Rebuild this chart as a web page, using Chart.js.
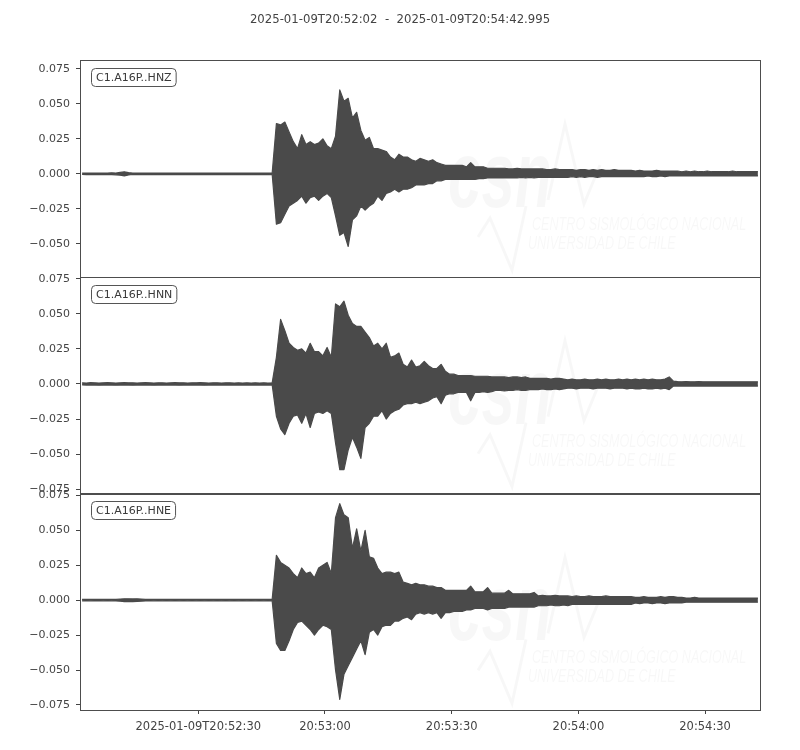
<!DOCTYPE html>
<html>
<head>
<meta charset="utf-8">
<script src="https://cdn.jsdelivr.net/npm/chart.js@4.4.1/dist/chart.umd.min.js"></script>
<style>
  html, body { margin: 0; padding: 0; background: #ffffff; }
  #wrap { width: 800px; height: 750px; }
</style>
</head>
<body>
<div id="wrap"><canvas id="c" width="800" height="750"></canvas></div>
<script>
// ---- Data (amplitudes in units of 0.001; one max/min pair per 1-second bin starting 20:52:02) ----
const TITLE_TEXT = '2025-01-09T20:52:02  -  2025-01-09T20:54:42.995';
const TRACE_NAMES = ['C1.A16P..HNZ', 'C1.A16P..HNN', 'C1.A16P..HNE'];
const X_TICK_SECONDS = [28, 58, 88, 118, 148];
const X_TICK_LABELS = ['2025-01-09T20:52:30', '20:53:00', '20:53:30', '20:54:00', '20:54:30'];
const Y_TICKS = [-0.075, -0.05, -0.025, 0, 0.025, 0.05, 0.075];
const DURATION = 160.995;
const AMP_UNIT = 0.001;

const HNZ_MAX = [
  0.6,0.5,0.6,0.5,0.6,0.5,0.6,0.7,0.6,1.0,
  1.4,0.8,0.6,0.5,0.6,0.5,0.6,0.5,0.6,0.5,
  0.6,0.5,0.6,0.5,0.6,0.5,0.6,0.5,0.5,0.6,
  0.5,0.6,0.5,0.6,0.5,0.6,0.5,0.6,0.5,0.6,
  0.5,0.6,0.5,0.6,0.5,0.6,36,35,37,30,
  23,18,28,21,23,21,22,25,20,18,
  27,60,52,54,40,44,31,24,26,18,
  18,17,16,12,10,14,12,12,10,9,
  11,10,9,10,8,7,6,6,6,6,
  6,5,8,5,5,5,4,4,4,4,
  4,3.5,3.5,4,3.5,3.5,3.5,3.5,3.5,3.5,
  3,3,3.5,3,3,3,3,2.5,3,3,
  2.5,3,2.5,3,2.5,2.5,3,2.5,2.5,2.5,
  2.5,2,2.5,2,2,2,2.5,2,2,2,
  2,2,1.5,2,1.5,2,1.5,1.5,2,1.5,
  1.5,1.5,1.5,1.5,2,1.5,1.5,1.5,1.5,1.5,
  1.5
];
const HNZ_MIN = [
  -0.5,-0.6,-0.5,-0.6,-0.5,-0.6,-0.5,-0.6,-0.7,-1.0,
  -1.5,-0.8,-0.5,-0.6,-0.5,-0.6,-0.5,-0.6,-0.5,-0.6,
  -0.5,-0.6,-0.5,-0.6,-0.5,-0.6,-0.5,-0.6,-0.6,-0.5,
  -0.6,-0.5,-0.6,-0.5,-0.6,-0.5,-0.6,-0.5,-0.6,-0.5,
  -0.6,-0.5,-0.6,-0.5,-0.6,-0.5,-36,-35,-29,-23,
  -21,-19,-16,-21,-17,-16,-19,-16,-14,-17,
  -30,-44,-42,-52,-33,-30,-23,-26,-23,-21,
  -16,-19,-14,-13,-11,-13,-11,-11,-10,-8,
  -8,-8,-7,-7,-5,-5,-4,-4,-4,-4,
  -4,-4,-4,-4,-3.5,-3.5,-3,-3,-3,-3,
  -3,-3,-3,-3,-2.5,-3,-2.5,-3,-2.5,-2.5,
  -2.5,-2.5,-2.5,-2.5,-2.5,-2.5,-2,-2.5,-2,-2.5,
  -2,-2,-2.5,-2,-2,-2,-2,-2,-2,-2,
  -2,-2,-2,-2,-1.5,-2,-2,-1.5,-2,-1.5,
  -1.5,-1.5,-1.5,-1.5,-1.5,-1.5,-1.5,-1.5,-1.5,-1.5,
  -1.5,-1.5,-1.5,-1.5,-1.5,-1.5,-1.5,-1.5,-1.5,-1.5,
  -1.5
];
const HNN_MAX = [
  0.8,0.7,0.9,0.8,0.7,0.8,0.9,0.8,0.7,0.8,
  0.9,0.8,0.8,0.7,0.8,0.9,0.8,0.7,0.8,0.8,
  0.7,0.8,0.9,0.8,0.8,0.7,0.8,0.8,0.9,0.8,
  0.7,0.8,0.8,0.7,0.8,0.8,0.7,0.8,0.7,0.8,
  0.7,0.8,0.7,0.8,0.7,0.8,19,46,38,29,
  26,24,25,22,29,23,23,20,26,19,
  57,55,59,49,43,41,41,37,33,27,
  29,25,29,19,20,22,14,12,17,12,
  13,16,13,11,11,14,9,7,7,6,
  6,6,6,5.5,5.5,5.5,5.5,5,5,5,
  5,4.5,5,5,4.5,5,4,4,4,4,
  4,3.5,4,4,3.5,3,3.5,3,3,3.5,
  3,3,3.5,3,3.5,3,3,3.5,3,3.5,
  3,3.5,3,3.5,3,3.5,3,3,3.5,5,
  2,1.7,1.5,1.7,1.5,1.5,1.7,1.5,1.5,1.5,
  1.5,1.5,1.5,1.5,1.5,1.5,1.5,1.5,1.5,1.5,
  1.5
];
const HNN_MIN = [
  -0.7,-0.8,-0.8,-0.7,-0.9,-0.8,-0.7,-0.8,-0.9,-0.8,
  -0.8,-0.7,-0.9,-0.8,-0.7,-0.8,-0.8,-0.9,-0.7,-0.8,
  -0.8,-0.7,-0.8,-0.9,-0.7,-0.8,-0.8,-0.7,-0.8,-0.9,
  -0.8,-0.7,-0.8,-0.8,-0.7,-0.8,-0.8,-0.7,-0.8,-0.7,
  -0.8,-0.7,-0.8,-0.7,-0.8,-0.7,-23,-32,-36,-28,
  -23,-22,-28,-21,-31,-21,-20,-21,-19,-21,
  -42,-61,-61,-47,-38,-45,-53,-31,-28,-23,
  -23,-19,-25,-21,-19,-18,-15,-14,-14,-13,
  -14,-13,-12,-10,-9,-14,-8,-7,-7,-6,
  -6,-6,-12,-6,-6,-5.5,-6,-5.5,-4.5,-4.5,
  -5,-4.5,-4.5,-4,-4.5,-4.5,-4,-4,-4,-3.5,
  -4,-4,-3.5,-4,-3.5,-3,-3,-3.5,-3,-3,
  -3,-3.5,-3,-3,-3,-3.5,-3,-3,-3,-3.5,
  -3,-3.5,-3.5,-3,-3.5,-3.5,-3,-3.5,-3,-4,
  -1.5,-1.5,-1.5,-1.5,-1.5,-1.5,-1.5,-1.5,-1.5,-1.5,
  -1.5,-1.5,-1.5,-1.5,-1.5,-1.5,-1.5,-1.5,-1.5,-1.5,
  -1.5
];
const HNE_MAX = [
  0.6,0.5,0.6,0.6,0.5,0.6,0.5,0.6,0.6,0.8,
  1.0,1.0,0.9,1.0,0.8,0.6,0.5,0.6,0.5,0.6,
  0.5,0.6,0.5,0.6,0.5,0.6,0.5,0.6,0.5,0.6,
  0.5,0.6,0.5,0.6,0.5,0.6,0.5,0.6,0.5,0.6,
  0.5,0.6,0.5,0.6,0.5,0.6,32,27,25,23,
  19,16,23,19,20,16,23,25,27,19,
  59,69,61,59,37,51,35,50,31,30,
  23,19,20,20,19,20,13,12,11,12,
  11,11,10,10,9,9,7,7,7,7,
  7,7,10,6,6,6,9,5,5,5,
  5,7,4.5,4.5,4.5,4.5,4.5,5.5,3,3.5,
  3,3,3.5,3,3,3,2.6,3,2.5,2.6,
  3,2.5,2.6,2.5,3,2.5,2.6,2.5,2.5,2.6,
  2.5,2,2,2.5,2,2,2,2.5,2,2.5,
  2.5,2,2,1.5,1.5,2,1.5,1.5,1.5,1.5,
  1.5,1.5,1.5,1.5,1.5,1.5,1.5,1.5,1.5,1.5,
  1.5
];
const HNE_MIN = [
  -0.5,-0.6,-0.5,-0.6,-0.6,-0.5,-0.6,-0.5,-0.6,-0.8,
  -1.0,-1.1,-1.0,-0.9,-0.8,-0.6,-0.6,-0.5,-0.6,-0.5,
  -0.6,-0.5,-0.6,-0.5,-0.6,-0.5,-0.6,-0.5,-0.6,-0.5,
  -0.6,-0.5,-0.6,-0.5,-0.6,-0.5,-0.6,-0.5,-0.6,-0.5,
  -0.6,-0.5,-0.6,-0.5,-0.6,-0.5,-31,-36,-36,-29,
  -21,-16,-15,-18,-21,-25,-21,-18,-19,-21,
  -50,-71,-53,-47,-41,-35,-29,-39,-23,-21,
  -25,-19,-18,-18,-15,-15,-13,-12,-14,-10,
  -9,-10,-9,-10,-9,-13,-9,-9,-8,-8,
  -8,-7,-7,-6,-6,-6,-7,-6,-6,-6,
  -6,-5,-5,-5,-5,-5,-5,-5,-4,-4,
  -4,-3.5,-4,-4,-3.5,-4,-3,-3,-3,-3,
  -3,-3,-3,-3,-3,-3,-3,-3,-3,-3,
  -3,-2,-2.5,-2,-2,-2.5,-2,-2,-2.5,-2,
  -2,-2,-2,-1.5,-1.5,-1.5,-1.5,-1.5,-1.5,-1.5,
  -1.5,-1.5,-1.5,-1.5,-1.5,-1.5,-1.5,-1.5,-1.5,-1.5,
  -1.5
];
// y-axis limits for each panel (data units)
const Y_LIMITS = [[-0.0736, 0.0814], [-0.0779, 0.0764], [-0.0786, 0.0764]];

// ---- Build drawing points: envelope of each 1-s bin, centred in the bin ----
function envelope(arr) {
  return arr.map((v, i) => ({ x: i + 0.5, y: v * AMP_UNIT }));
}

const TRACE_COLOR = '#4a4a4a';
const TEXT_COLOR = '#444444';
const AXIS_IDS = ['yZ', 'yN', 'yE'];
const FONT = 'DejaVu Sans';
const WM_FONT = '"Liberation Sans", Arial, sans-serif';

function fmtY(v) {
  const a = Math.abs(v).toFixed(3);
  return (v < -1e-9 ? '\u2212' : '') + a;
}

function yScale(idx) {
  return {
    type: 'linear',
    position: 'left',
    stack: 'traces',
    stackWeight: 1,
    min: Y_LIMITS[idx][0],
    max: Y_LIMITS[idx][1],
    afterBuildTicks: s => {
      s.ticks = Y_TICKS.filter(v => v >= s.min - 1e-9 && v <= s.max + 1e-9).map(v => ({ value: v }));
    },
    afterFit: s => { s.width = 80; },
    ticks: {
      callback: v => fmtY(v),
      color: TEXT_COLOR,
      font: { family: FONT, size: 11 },
      padding: 6,
      autoSkip: false
    },
    grid: { drawOnChartArea: false, drawTicks: true, tickLength: 4, color: '#444444', tickWidth: 1 },
    border: { display: false }
  };
}

function scaledText(ctx, txt, x, y, sx) {
  ctx.save();
  ctx.translate(x, y);
  ctx.scale(sx, 1);
  ctx.fillText(txt, 0, 0);
  ctx.restore();
}

const panelPlugin = {
  id: 'panelDecor',
  beforeDraw(chart) {
    // faint CSN watermark in every panel
    const ctx = chart.ctx;
    const area = chart.chartArea;
    ctx.save();
    AXIS_IDS.forEach(id => {
      const s = chart.scales[id];
      const oy = s.top - 60;
      ctx.save();
      ctx.beginPath();
      ctx.rect(area.left, s.top, area.right - area.left, s.bottom - s.top);
      ctx.clip();
      ctx.fillStyle = 'rgba(0,0,0,0.03)';
      ctx.strokeStyle = 'rgba(0,0,0,0.03)';
      ctx.textAlign = 'left';
      ctx.textBaseline = 'alphabetic';
      ctx.font = 'italic bold 94px ' + WM_FONT;
      scaledText(ctx, 'csn', 448, 207 + oy, 0.64);
      ctx.font = 'italic 18px ' + WM_FONT;
      scaledText(ctx, 'CENTRO SISMOLÓGICO NACIONAL', 532, 230 + oy, 0.7);
      scaledText(ctx, 'UNIVERSIDAD DE CHILE', 528, 249 + oy, 0.7);
      ctx.lineWidth = 3;
      ctx.lineJoin = 'miter';
      ctx.beginPath();
      ctx.moveTo(548, 200 + oy); ctx.lineTo(565, 124 + oy);
      ctx.lineTo(584, 204 + oy); ctx.lineTo(600, 165 + oy);
      ctx.moveTo(478, 237 + oy); ctx.lineTo(490, 218 + oy); ctx.lineTo(512, 270 + oy);
      ctx.lineTo(526, 206 + oy);
      ctx.stroke();
      ctx.restore();
    });
    ctx.restore();
  },
  afterDatasetsDraw(chart) {
    const ctx = chart.ctx;
    const area = chart.chartArea;
    ctx.save();
    ctx.lineWidth = 1;
    AXIS_IDS.forEach((id, k) => {
      const s = chart.scales[id];
      ctx.strokeStyle = '#4d4d4d';
      ctx.strokeRect(Math.round(area.left) + 0.5, Math.round(s.top) + 0.5,
        Math.round(area.right - area.left), Math.round(s.bottom - s.top));
      // trace label box
      ctx.font = '11px ' + FONT;
      const txt = TRACE_NAMES[k];
      const w = ctx.measureText(txt).width + 9;
      const bx = area.left + 11.5, by = Math.round(s.top) + 8.5, bh = 18;
      ctx.beginPath();
      ctx.roundRect(bx, by, w, bh, 4);
      ctx.fillStyle = '#ffffff';
      ctx.fill();
      ctx.strokeStyle = '#555555';
      ctx.stroke();
      ctx.fillStyle = '#3a3a3a';
      ctx.textBaseline = 'middle';
      ctx.textAlign = 'left';
      ctx.fillText(txt, bx + 4.5, by + bh / 2 + 0.5);
    });
    ctx.restore();
  }
};

const seriesSets = [[HNZ_MAX, HNZ_MIN], [HNN_MAX, HNN_MIN], [HNE_MAX, HNE_MIN]];
const datasets = [];
seriesSets.forEach(([mx, mn], k) => {
  const common = {
    yAxisID: AXIS_IDS[k],
    borderColor: TRACE_COLOR,
    backgroundColor: TRACE_COLOR,
    borderWidth: 1.2,
    borderJoinStyle: 'round',
    pointRadius: 0,
    tension: 0
  };
  datasets.push(Object.assign({ label: TRACE_NAMES[k] + ' max', data: envelope(mx), fill: '+1' }, common));
  datasets.push(Object.assign({ label: TRACE_NAMES[k] + ' min', data: envelope(mn), fill: false }, common));
});

new Chart(document.getElementById('c'), {
  type: 'line',
  data: { datasets },
  options: {
    responsive: false,
    animation: false,
    devicePixelRatio: 1,
    parsing: false,
    normalized: true,
    layout: { padding: 0 },
    plugins: {
      legend: { display: false },
      tooltip: { enabled: false },
      title: {
        display: true,
        text: TITLE_TEXT,
        color: TEXT_COLOR,
        font: { family: FONT, size: 11.7, weight: 'normal' },
        padding: { top: 13, bottom: 33 }
      }
    },
    scales: {
      x: {
        type: 'linear',
        position: 'bottom',
        min: 0,
        max: DURATION,
        afterBuildTicks: s => { s.ticks = X_TICK_SECONDS.map(v => ({ value: v })); },
        afterFit: s => { s.height = 40; },
        ticks: {
          callback: (v) => X_TICK_LABELS[X_TICK_SECONDS.indexOf(v)],
          color: TEXT_COLOR,
          font: { family: FONT, size: 11.5 },
          maxRotation: 0,
          autoSkip: false,
          padding: 6
        },
        grid: { drawOnChartArea: false, drawTicks: true, tickLength: 4, color: '#444444' },
        border: { display: false }
      },
      // stacked panels: the last-listed axis is placed on top
      yE: yScale(2),
      yN: yScale(1),
      yZ: yScale(0),
      // empty right margin so the plot ends at the same place as the original figure
      spacer: {
        type: 'linear',
        position: 'right',
        display: true,
        afterFit: s => { s.width = 40; },
        ticks: { display: false },
        grid: { display: false, drawTicks: false },
        border: { display: false }
      }
    }
  },
  plugins: [panelPlugin]
});
</script>
</body>
</html>
